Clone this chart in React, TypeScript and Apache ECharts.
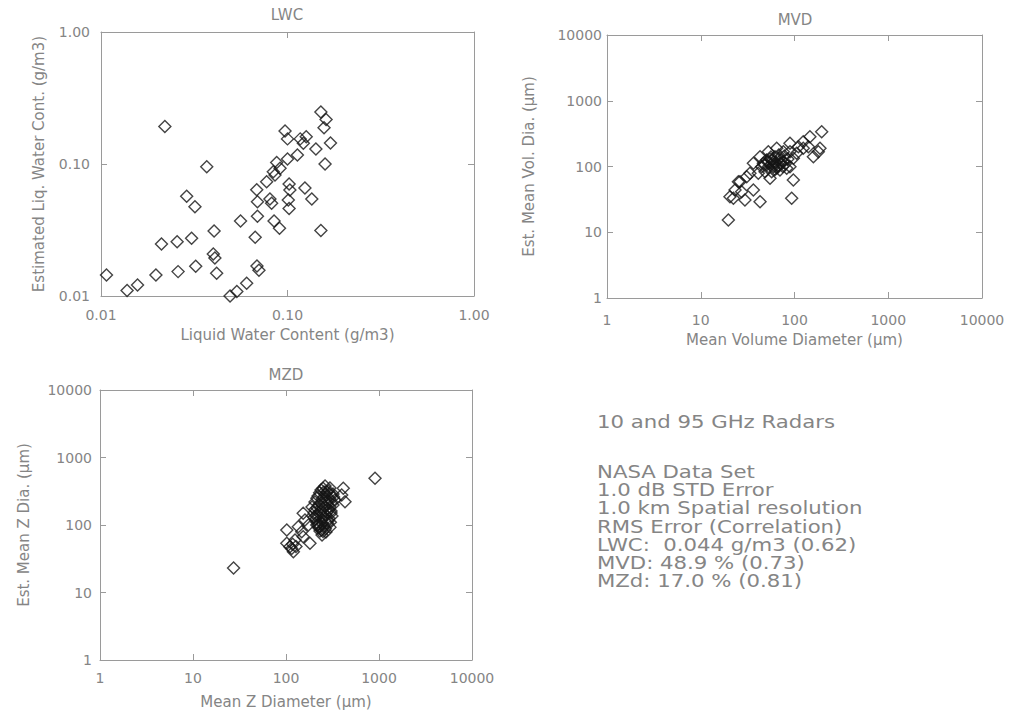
import React, { useEffect, useRef } from "react";
import * as echarts from "echarts";

// ---------- data ----------
const lwcTickLabels = ["0.01", "0.10", "1.00"];
const diaTickLabels = ["1", "10", "100", "1000", "10000"];

// [measured LWC (g/m3), estimated LWC (g/m3)]
const lwcPoints: [number, number][] = [
  [0.022, 0.192], [0.0369, 0.0955], [0.0288, 0.057], [0.0319, 0.0475],
  [0.0211, 0.0248], [0.0256, 0.0258], [0.0306, 0.0274], [0.0404, 0.0311],
  [0.056, 0.037], [0.069, 0.0402], [0.0671, 0.0279], [0.0847, 0.037],
  [0.0906, 0.0326], [0.069, 0.0518], [0.0684, 0.0638], [0.0805, 0.0543],
  [0.0773, 0.0735], [0.0857, 0.0826], [0.0875, 0.1026], [0.1, 0.109],
  [0.113, 0.117], [0.097, 0.178], [0.1, 0.155], [0.117, 0.155],
  [0.126, 0.161], [0.103, 0.0635], [0.102, 0.046], [0.124, 0.0658],
  [0.135, 0.0543], [0.101, 0.0533], [0.151, 0.248], [0.161, 0.217],
  [0.157, 0.188], [0.142, 0.13], [0.17, 0.144], [0.159, 0.1],
  [0.151, 0.0313], [0.0107, 0.0144], [0.0138, 0.011], [0.0157, 0.0121],
  [0.0197, 0.0144], [0.0259, 0.0153], [0.0322, 0.0168], [0.04, 0.0208],
  [0.0417, 0.0149], [0.0703, 0.0157], [0.0604, 0.0125], [0.0535, 0.0108],
  [0.0492, 0.01], [0.0408, 0.0194], [0.0839, 0.0875], [0.0912, 0.0927],
  [0.1216, 0.1436], [0.0822, 0.0504], [0.0686, 0.0169], [0.102, 0.0705],
];

// [measured MVD (um), estimated MVD (um)]
const mvdPoints: [number, number][] = [
  [19.7, 15.4], [93.3, 32.8], [97.2, 62.3], [195, 338], [187, 189],
  [159, 141], [140.6, 200], [124, 238], [110, 200], [42.9, 29.2],
  [22.3, 32.8], [27.3, 41.4], [36.4, 43.9], [25.2, 58.7], [33.5, 78.8],
  [36.4, 112], [42.9, 141], [52.6, 168], [64.6, 189], [76, 168],
  [89.5, 225], [105.5, 159], [46.5, 112], [52.6, 99.3], [59.4, 118],
  [67.2, 105], [76, 118], [57.1, 83.4], [70, 88.5], [48.5, 83.4],
  [82.6, 93.9], [61.9, 141], [41.1, 78.8], [54.8, 66.1], [89.5, 99.3],
  [29.6, 30.9], [124, 189], [146, 284], [179.5, 168], [89.5, 168],
  [97.2, 133], [50.5, 126], [44.7, 99.3], [55, 130], [65, 95],
  [72, 125], [80, 110], [48, 105], [60, 100], [68, 150], [85, 130],
  [58, 110], [30.9, 70], [26.2, 58.7], [23.2, 43.9], [20.5, 34.7],
  [58, 125], [63, 115], [70, 135], [75, 100], [52, 115], [66, 102],
  [78, 145], [62, 90], [56, 140], [72, 112],
];

// [measured MZD (um), estimated MZD (um)]
const mzdPoints: [number, number][] = [
  [27.3, 23.1], [906, 492], [413, 350], [431, 221], [397, 278],
  [102, 84.3], [110, 47.7], [120, 40.3], [102, 53.6], [125, 60],
  [153, 67.1], [181, 53.6], [147.5, 79.6], [160, 118.6], [174, 100],
  [153, 149], [135.6, 94.4], [242, 84.3], [214, 100], [115, 45],
  [118, 52], [128, 48],
  [263, 378], [297, 353], [238, 330], [276, 308], [320, 288], [221, 269],
  [256, 260], [297, 243], [205, 219], [238, 212], [276, 205], [320, 198],
  [215, 179], [250, 173], [290, 167], [200, 151], [232, 146], [269, 141],
  [312, 136], [210, 123], [244, 119], [283, 115], [221, 100], [256, 97],
  [297, 93], [232, 81.5], [269, 78.7], [244, 71.1], [226, 90], [305, 161],
  [190.5, 185], [336, 235], [256, 308], [210, 136],
  [250, 350], [285, 320], [230, 300], [300, 280], [265, 290], [215, 250],
  [245, 240], [280, 230], [310, 220], [225, 200], [260, 190], [295, 185],
  [205, 170], [235, 160], [275, 155], [305, 150], [220, 140], [255, 130],
  [290, 125], [215, 110], [245, 105], [280, 105], [230, 95], [265, 88],
  [250, 80], [300, 110], [200, 130], [325, 260],
];

const infoLines = [
  { text: "10 and 95 GHz Radars", y: 422 },
  { text: "NASA Data Set", y: 472 },
  { text: "1.0 dB STD Error", y: 490 },
  { text: "1.0 km Spatial resolution", y: 508 },
  { text: "RMS Error (Correlation)", y: 527 },
  { text: "LWC:  0.044 g/m3 (0.62)", y: 545 },
  { text: "MVD: 48.9 % (0.73)", y: 563 },
  { text: "MZd: 17.0 % (0.81)", y: 581 },
];

// ---------- styling ----------
const FONT = "DejaVu Sans";
const TXT = "#858585";
const LINE = "#9a9a9a";

const lwcFmt = (v: number) =>
  lwcTickLabels[Math.round(Math.log10(v)) + 2] ?? "";
const diaFmt = (v: number) => diaTickLabels[Math.round(Math.log10(v))] ?? "";

function xAxes(grid: number, min: number, max: number, fmt: any, name: string, nameGap: number, margin: number) {
  const common = {
    type: "log", logBase: 10, gridIndex: grid, min, max,
    axisLine: { show: true, onZero: false, lineStyle: { color: LINE, width: 1 } },
    axisTick: { show: true, inside: true, length: 6, lineStyle: { color: LINE } },
    splitLine: { show: false },
  };
  return [
    {
      ...common, position: "bottom",
      axisLabel: { show: true, margin, formatter: fmt, color: TXT, fontFamily: FONT, fontSize: 14, showMinLabel: true, showMaxLabel: true },
      name, nameLocation: "middle", nameGap,
      nameTextStyle: { color: TXT, fontFamily: FONT, fontSize: 15 },
    },
    { ...common, position: "top", axisLabel: { show: false } },
  ];
}

function yAxes(grid: number, min: number, max: number, fmt: any, name: string, nameGap: number, margin: number) {
  const common = {
    type: "log", logBase: 10, gridIndex: grid, min, max,
    axisLine: { show: true, onZero: false, lineStyle: { color: LINE, width: 1 } },
    axisTick: { show: true, inside: true, length: 6, lineStyle: { color: LINE } },
    splitLine: { show: false },
  };
  return [
    {
      ...common, position: "left",
      axisLabel: { show: true, margin, formatter: fmt, color: TXT, fontFamily: FONT, fontSize: 14, showMinLabel: true, showMaxLabel: true },
      name, nameLocation: "middle", nameGap,
      nameTextStyle: { color: TXT, fontFamily: FONT, fontSize: 15 },
    },
    { ...common, position: "right", axisLabel: { show: false } },
  ];
}

const symbolStyle = {
  color: "rgba(255,255,255,0)",
  borderColor: "#151515",
  borderWidth: 1.4,
};

function scatter(data: [number, number][], axisIndex: number) {
  return {
    type: "scatter",
    xAxisIndex: axisIndex,
    yAxisIndex: axisIndex,
    data,
    symbol: "diamond",
    symbolSize: 12,
    itemStyle: symbolStyle,
    clip: true,
    silent: true,
  };
}

function titleText(text: string, x: number, y: number) {
  return {
    type: "text",
    x, y,
    style: { text, fill: TXT, fontFamily: FONT, fontSize: 15, align: "center", verticalAlign: "middle" },
  };
}

export default function App() {
  const ref = useRef<HTMLDivElement>(null);
  useEffect(() => {
    document.body.style.margin = "0";
    if (!ref.current) return;
    const chart = echarts.init(ref.current, null, { renderer: "svg" });
    const option: any = {
      animation: false,
      backgroundColor: "#ffffff",
      grid: [
        { left: 101, top: 32, width: 373, height: 264, show: false },
        { left: 607, top: 35, width: 375, height: 263, show: false },
        { left: 100, top: 390, width: 372, height: 270, show: false },
      ],
      xAxis: [
        ...xAxes(0, 0.01, 1, lwcFmt, "Liquid Water Content (g/m3)", 31, 12),
        ...xAxes(1, 1, 10000, diaFmt, "Mean Volume Diameter (µm)", 34, 15),
        ...xAxes(2, 1, 10000, diaFmt, "Mean Z Diameter (µm)", 34, 11),
      ],
      yAxis: [
        ...yAxes(0, 0.01, 1, lwcFmt, "Estimated Liq. Water Cont. (g/m3)", 55, 11),
        ...yAxes(1, 1, 10000, diaFmt, "Est. Mean Vol. Dia. (µm)", 71, 5),
        ...yAxes(2, 1, 10000, diaFmt, "Est. Mean Z Dia. (µm)", 69, 8),
      ],
      series: [scatter(lwcPoints, 0), scatter(mvdPoints, 2), scatter(mzdPoints, 4)],
      graphic: [
        titleText("LWC", 287, 15),
        titleText("MVD", 795, 20),
        titleText("MZD", 286, 375),
        ...infoLines.map((l) => ({
          type: "text",
          x: 597,
          y: l.y,
          scaleX: 1.18,
          style: { text: l.text, fill: TXT, fontFamily: FONT, fontSize: 18, align: "left", verticalAlign: "middle" },
        })),
      ],
    };
    chart.setOption(option);
    return () => chart.dispose();
  }, []);
  return <div ref={ref} style={{ width: 1010, height: 715 }} />;
}
